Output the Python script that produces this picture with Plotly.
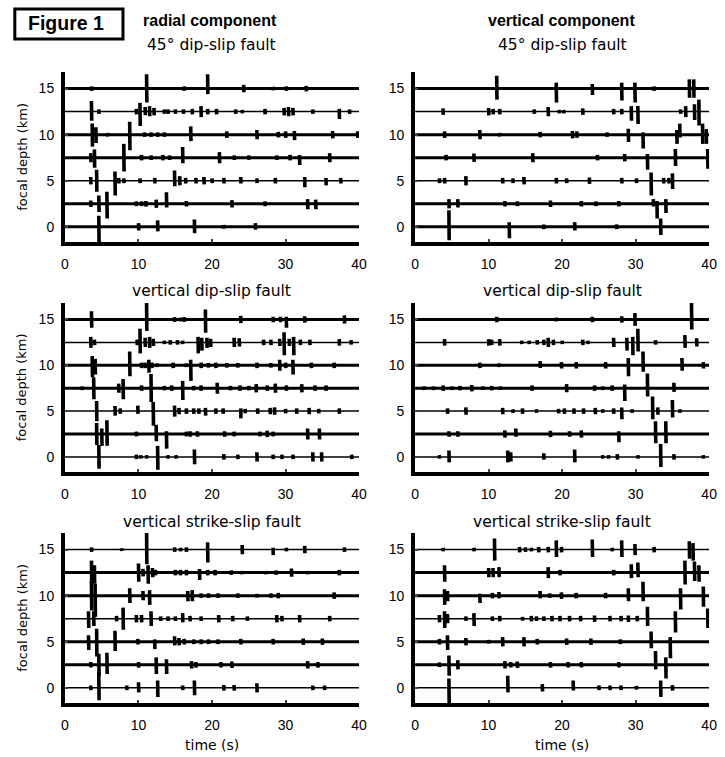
import plotly.graph_objects as go

# ---------------- data ----------------
depths = [0, 2.5, 5, 7.5, 10, 12.5, 15]
xticks = [0, 10, 20, 30, 40]
yticks = [0, 5, 10, 15]
component_titles = ["radial component", "vertical component"]
fault_titles = ["45° dip-slip fault", "vertical dip-slip fault", "vertical strike-slip fault"]
x_title = "time (s)"
y_title = "focal depth (km)"
figure_label = "Figure 1"

# each trace (depth 0 ... 15 km): list of (time s, amplitude up km, amplitude down km)
radial_45 = [
    [(4.6, 1.2, 1.8), (10.0, .4, .4), (12.6, .7, .5), (17.6, .8, .7), (21.6, .2, .2), (25.9, .4, .3)],
    [(3.5, .35, .35), (4.6, .9, .9), (5.7, 1.3, 1.6), (9.7, .25, .25), (10.4, .25, .25), (11.0, .3, .3),
     (12.4, .45, .45), (13.8, 1.25, .4), (16.5, .3, .3), (22.7, .4, .4), (27.2, .25, .25), (33.0, .5, .6), (34.1, .45, .6)],
    [(3.5, .4, .4), (4.3, 1.2, 1.2), (6.8, 1.0, 1.6), (7.3, .3, .3), (8.0, .25, .25), (10.2, .25, .25), (12.2, .3, .3),
     (14.9, 1.1, .6), (15.6, .5, .5), (16.4, .3, .3), (17.8, .3, .3), (18.9, .4, .4), (20.0, .25, .25), (21.6, .3, .3),
     (23.9, .4, .3), (26.1, .25, .25), (28.6, .3, .3), (32.6, .4, .7), (35.5, .3, .5), (37.5, .3, .3)],
    [(3.5, .5, .5), (4.0, .9, 1.1), (8.0, 1.5, 1.5), (10.4, .3, .3), (11.7, .25, .25), (13.3, .3, .3), (14.2, .25, .25),
     (16.0, 1.15, .6), (21.0, .6, .6), (23.0, .25, .25), (25.0, .25, .25), (28.8, .25, .25), (30.6, .3, .3),
     (31.9, .3, .8), (36.0, .5, .5)],
    [(3.7, 1.2, 1.3), (4.2, .8, .9), (5.8, .2, .2), (8.8, 1.4, 1.7), (10.8, .25, .25), (11.7, .25, .25), (12.6, .25, .25),
     (13.5, .25, .25), (17.1, .9, .7), (22.0, .35, .35), (26.1, .5, .5), (29.0, .3, .3), (30.0, .35, .35),
     (31.2, .4, .6), (36.4, .4, .4), (39.8, .35, .35)],
    [(3.6, 1.15, 1.0), (4.6, .25, .25), (9.7, .3, .3), (10.2, .95, 1.55), (10.9, .5, .4), (11.5, .6, .5), (12.1, .4, .4),
     (13.5, .25, .25), (14.0, .25, .25), (15.0, .25, .25), (16.1, .25, .25), (17.3, .3, .3), (18.5, .6, .6),
     (19.4, .3, .3), (20.6, .3, .3), (23.2, .25, .25), (24.1, .2, .2), (27.2, .3, .3), (29.8, .4, .4), (30.4, .5, .5),
     (31.0, .4, .4), (33.7, .25, .25), (37.3, .3, .8), (38.7, .25, .25)],
    [(3.6, .25, .25), (11.1, 1.55, 1.5), (16.2, .25, .25), (19.4, 1.55, .6), (24.3, .4, .4), (28.3, .2, .2),
     (30.1, .25, .25), (32.8, .3, .3)],
]

vertical_45 = [
    [(4.6, 1.8, 1.45), (12.8, .5, 1.25), (17.5, .25, .25), (21.7, .5, .4), (27.4, .25, .25), (33.4, .9, .9)],
    [(4.6, .5, .5), (5.8, .5, .4), (12.2, .3, .3), (13.9, .25, .25), (18.4, .35, .35), (22.6, .3, .3), (24.6, .25, .25),
     (27.7, .3, .3), (32.4, .5, .3), (32.9, .3, 1.6), (34.1, .5, 1.0)],
    [(3.3, .25, .25), (4.0, .3, .3), (6.9, .5, .5), (11.9, .3, .3), (13.3, .25, .25), (14.8, .4, .4), (19.2, .3, .3),
     (20.6, .25, .25), (23.7, .35, .35), (28.1, .3, .3), (30.1, .25, .25), (32.1, .9, 1.6), (33.8, .3, .3),
     (34.5, .3, .3), (35.0, .8, .9)],
    [(4.2, .3, .3), (8.0, .45, .45), (16.0, .5, .5), (24.8, .3, .3), (28.5, .4, .4), (31.6, .4, 1.3), (35.4, .95, .9),
     (39.8, .95, 1.2)],
    [(4.0, .35, .35), (8.8, .5, .5), (11.5, .2, .2), (17.0, .3, .3), (21.4, .4, .4), (22.0, .35, .35), (26.1, .25, .25),
     (29.0, .65, .8), (31.0, .25, 1.5), (35.6, .5, 1.0), (36.0, 1.2, .3), (39.1, 1.2, 1.0), (39.6, .6, 1.0)],
    [(3.8, .35, .35), (10.0, .4, .4), (10.6, .3, .3), (11.5, .3, .3), (16.2, .25, .25), (18.1, .5, .5), (19.6, .2, .2),
     (20.2, .2, .2), (22.8, .35, .35), (27.0, .3, .3), (28.1, .3, .3), (29.4, .6, 1.0), (30.3, .6, 1.35),
     (36.1, .25, .25), (36.8, .6, .6), (38.0, .8, .9), (38.6, 1.3, 1.5)],
    [(11.1, 1.4, 1.2), (19.2, .65, 1.5), (24.1, .5, .7), (28.1, .65, 1.3), (29.9, .65, 1.5), (32.5, .25, .25),
     (37.3, 1.0, 1.0), (37.9, 1.0, 1.0)],
]

radial_dip = [
    [(4.6, 1.3, 1.3), (9.7, .25, .25), (10.3, .2, .2), (11.1, .2, .2), (12.6, 1.2, 1.4), (14.0, .2, .2), (15.1, .2, .2),
     (17.6, .8, .8), (21.6, .3, .3), (23.5, .25, .25), (26.1, .5, .5), (28.3, .25, .25), (29.5, .25, .25),
     (31.0, .25, .25), (33.7, .5, .5), (34.9, .5, .5), (39.0, .25, .25)],
    [(4.3, 1.2, 1.2), (5.0, .6, 1.3), (5.7, 1.5, 1.3), (9.7, .25, .25), (12.4, 1.0, .8), (13.8, .3, 1.6), (16.5, .25, .25),
     (17.0, .3, .3), (18.0, .3, .3), (21.7, .3, .3), (23.0, .25, .25), (26.5, .25, .25), (27.5, .35, .35),
     (28.3, .25, .25), (33.0, .6, .6), (34.6, .6, .6)],
    [(4.3, 1.1, 1.1), (6.8, .55, .5), (7.5, .3, .3), (9.9, .6, .3), (12.0, 1.0, 1.6), (14.9, .6, .6), (15.5, .35, .35),
     (16.5, .3, .3), (17.5, .3, .3), (18.2, .3, .3), (19.1, .35, .5), (20.5, .3, .3), (21.5, .3, .3), (23.9, .3, .8),
     (24.5, .25, .25), (26.2, .3, .3), (27.9, .35, .35), (28.5, .4, .4), (30.0, .25, .25), (31.5, .3, .3),
     (33.2, .35, .35), (34.5, .25, .25), (37.3, .3, .3)],
    [(2.3, .2, .2), (3.9, 1.2, 1.2), (7.3, .5, .5), (7.9, 1.0, 1.2), (10.4, .3, .3), (11.7, 1.55, 1.5), (13.5, .25, .25),
     (14.5, .3, .3), (16.0, .8, 1.3), (17.5, .25, .25), (18.5, .3, .3), (20.7, .6, .6), (22.5, .25, .25),
     (23.8, .3, .3), (25.0, .25, .25), (26.0, .45, .45), (27.5, .3, .3), (28.6, .5, .5), (30.1, .3, .3),
     (32.2, .45, .45), (34.0, .3, .3), (35.5, .3, .3)],
    [(3.7, 1.0, 1.3), (4.1, .7, 1.0), (8.8, 1.5, 1.2), (10.4, .3, .3), (10.9, .3, .3), (11.4, .6, .8), (11.8, .3, .3),
     (12.5, .2, .2), (14.7, .3, .3), (16.5, .2, .2), (17.1, .6, 1.7), (18.5, .3, .3), (19.5, .25, .25),
     (20.5, .3, .3), (22.0, .25, .25), (23.5, .25, .25), (26.1, .3, .3), (28.0, .25, .25), (29.2, .6, .6),
     (30.0, .3, .3), (31.0, .6, 1.0), (33.5, .3, .3), (36.6, .3, .3)],
    [(3.5, .6, .6), (4.0, .3, .3), (9.8, .3, .3), (10.2, 1.5, 1.2), (10.9, .5, .5), (11.5, .6, .6), (12.0, .4, .4),
     (13.5, .2, .2), (14.3, .25, .25), (15.3, .25, .25), (16.0, .2, .2), (18.1, .6, 1.2), (18.6, .5, .9),
     (19.3, .5, .6), (19.8, .4, .5), (23.0, .5, .5), (23.7, .45, .45), (27.0, .3, .3), (28.0, .3, .3),
     (29.2, .4, .4), (29.8, 1.1, 1.4), (30.5, .4, .4), (31.1, .6, 1.4), (32.0, .3, .3), (33.3, .3, .3),
     (37.3, .35, .35), (38.9, .25, .25)],
    [(3.6, .9, .9), (11.1, 1.8, 1.25), (14.9, .25, .25), (15.7, .2, .2), (16.2, .25, .25), (19.1, 1.1, 1.45),
     (23.9, .4, .4), (28.3, .3, .3), (29.3, .3, .3), (30.1, .3, .9), (32.6, .35, .35), (38.0, .45, .45)],
]

vertical_dip = [
    [(3.3, .2, .2), (4.6, .7, .6), (12.6, .7, .6), (13.0, .5, .5), (17.5, .4, .3), (21.7, .8, .6), (25.5, .2, .2),
     (26.3, .2, .2), (27.5, .3, .3), (30.3, .2, .2), (33.4, 1.4, 1.1), (35.2, .3, .3), (39.2, .2, .2)],
    [(4.6, .3, .3), (5.8, .3, .3), (12.2, .4, .4), (13.7, .6, .3), (18.4, .35, .35), (21.0, .3, .3), (22.6, .4, .4),
     (27.7, .3, .9), (32.7, 1.4, 1.0), (34.1, 1.4, 1.0)],
    [(4.4, .3, .3), (6.9, .4, .4), (11.9, .35, .35), (13.3, .2, .2), (14.6, .3, .3), (16.5, .2, .2), (19.5, .25, .25),
     (20.3, .3, .3), (21.6, .3, .3), (22.9, .3, .3), (24.5, .35, .35), (25.5, .2, .2), (27.0, .3, .3),
     (28.1, .4, .9), (29.5, .2, .2), (32.3, 1.6, .9), (33.0, .4, .4), (35.0, 1.2, .7), (36.0, .2, .2)],
    [(1.2, .2, .2), (2.5, .2, .2), (3.8, .3, .3), (5.0, .2, .2), (6.1, .25, .25), (7.7, .35, .35), (9.2, .2, .2),
     (10.4, .25, .25), (11.6, .2, .2), (15.9, .3, .3), (20.6, .45, .45), (24.4, .3, .3), (25.5, .2, .2),
     (26.8, .3, .3), (28.5, .4, 1.4), (31.6, 1.6, .9), (35.2, .6, .4)],
    [(8.8, .3, .3), (11.4, .2, .2), (17.0, .45, .3), (19.9, .35, .35), (21.9, .35, .35), (25.9, .35, .35),
     (29.0, .8, 1.2), (31.0, 1.5, .7), (36.3, .8, .6), (39.2, .35, .35)],
    [(4.0, .35, .35), (10.0, .35, .35), (10.4, .3, .3), (11.5, .35, .35), (14.5, .2, .2), (15.5, .2, .2),
     (16.6, .25, .25), (17.5, .3, .3), (18.1, .5, .5), (18.8, .3, .3), (20.0, .2, .2), (22.8, .3, .3),
     (23.5, .2, .2), (27.0, .5, .5), (28.8, .5, .9), (29.6, .6, 1.4), (30.3, 1.5, 1.0), (32.7, .25, .25),
     (36.7, .8, .6), (38.3, .45, .45)],
    [(11.1, .3, .3), (19.2, .2, .2), (24.1, .3, .3), (28.1, .35, .35), (29.9, .7, .7), (37.6, 1.8, 1.1)],
]

radial_strike = [
    [(3.5, .25, .25), (4.6, 1.7, 1.35), (8.4, .25, .25), (10.0, .6, .5), (12.6, .8, 1.0), (16.0, .25, .25),
     (17.6, .8, .8), (21.6, .3, .3), (23.0, .3, .3), (26.1, .5, .5), (33.7, .25, .25), (35.3, .25, .25)],
    [(3.5, .3, .3), (4.6, 1.2, 1.2), (5.7, 1.3, 1.0), (10.0, .3, .3), (12.4, .8, 1.0), (13.8, .6, 1.0),
     (17.2, .4, .4), (17.8, .3, .3), (21.2, .3, .3), (22.7, .35, .35), (33.0, .4, .4), (34.4, .3, .3)],
    [(3.2, .7, .9), (4.3, 1.4, 1.6), (6.8, 1.2, 1.0), (9.9, .3, .3), (12.2, .25, .8), (14.9, .6, .4), (15.5, .4, .4),
     (16.2, .3, .3), (17.5, .25, .25), (18.5, .25, .25), (19.5, .25, .25), (20.8, .25, .25), (23.9, .3, .3),
     (28.3, .3, .3), (32.4, .35, .35), (35.0, .35, .35)],
    [(3.2, .8, 1.0), (3.9, .8, .8), (7.0, .3, .3), (7.9, 1.2, 1.2), (9.7, .4, .4), (10.4, .4, .4), (11.7, .8, .8),
     (13.0, .25, .25), (14.0, .25, .25), (15.0, .25, .25), (16.0, .6, .4), (17.0, .3, .3), (18.5, .25, .25),
     (20.9, .4, .4), (22.8, .3, .3), (24.8, .25, .25), (28.8, .4, .4), (29.5, .3, .3), (31.9, .4, .4),
     (36.0, .3, .3)],
    [(3.6, 1.6, 1.6), (4.1, 1.3, 2.3), (8.8, .8, .8), (10.6, .5, .5), (11.5, .6, 1.0), (16.7, .5, .6), (17.3, .6, .6),
     (18.5, .25, .25), (19.5, .25, .25), (20.8, .25, .25), (23.5, .25, .25), (26.1, .2, .2), (28.0, .25, .25),
     (29.0, .3, .3), (36.6, .35, .35)],
    [(3.6, 1.3, 1.2), (4.0, .8, 1.2), (10.0, 1.0, 1.0), (10.6, .4, .4), (11.3, .8, 1.2), (11.9, .5, .5),
     (12.3, .3, .3), (15.0, .3, .3), (15.7, .3, .3), (16.5, .3, .3), (18.3, .4, .8), (19.4, .3, .3),
     (20.4, .3, .3), (22.6, .25, .25), (24.0, .2, .2), (27.3, .2, .2), (28.7, .25, .25), (30.8, .45, .45),
     (33.0, .2, .2), (37.3, .3, .3)],
    [(3.6, .25, .25), (7.7, .15, .15), (11.1, 2.2, 1.6), (14.9, .25, .25), (15.7, .2, .2), (16.5, .25, .25),
     (19.4, .8, 1.4), (24.1, .5, .5), (28.3, .2, .6), (30.1, .2, .2), (32.6, .4, .4), (38.0, .25, .25)],
]

vertical_strike = [
    [(4.6, 1.0, 1.75), (12.6, 1.3, .5), (17.3, .4, .4), (21.5, .8, .3), (25.0, .25, .25), (26.5, .25, .25),
     (28.0, .25, .25), (30.1, .2, .2), (33.4, .8, 1.0), (35.0, .3, .3)],
    [(3.3, .25, .25), (4.6, 1.0, 1.2), (5.8, .5, .5), (12.2, .4, .4), (13.0, .3, .3), (13.9, .35, .35),
     (18.4, .3, .3), (20.8, .3, .3), (22.6, .3, .3), (27.7, .3, .3), (32.7, 1.5, .5), (34.1, .8, 1.5)],
    [(3.3, .3, .3), (4.4, .7, .9), (6.9, .4, .4), (10.0, .2, .2), (11.9, .5, .5), (14.8, .5, .5), (16.6, .3, .3),
     (20.6, .35, .35), (23.9, .35, .35), (27.9, .25, .25), (32.1, 1.1, .7), (34.7, .5, 1.8)],
    [(3.3, .4, .4), (4.0, .8, 1.0), (4.4, .5, .5), (6.9, .25, .25), (8.0, .6, .8), (10.5, .25, .25), (11.5, .3, .3),
     (14.6, .2, .2), (15.8, .3, .3), (16.5, .25, .25), (17.5, .25, .25), (18.6, .3, .3), (19.7, .3, .3),
     (21.0, .3, .3), (22.5, .3, .3), (24.4, .35, .35), (26.5, .3, .3), (28.0, .3, .3), (29.0, .35, .35),
     (30.2, .3, .3), (31.6, 1.3, .8), (35.4, .8, 1.5), (39.8, 1.1, 1.0)],
    [(4.0, .7, 1.0), (4.4, .5, .6), (8.8, .2, .8), (10.5, .3, .3), (11.4, .4, .3), (17.0, .5, .3), (18.3, .25, .25),
     (19.9, .35, .35), (21.9, .3, .3), (25.9, .3, .3), (29.0, .8, .6), (31.0, 1.5, .6), (36.1, .8, 1.5),
     (39.2, 1.0, 1.2)],
    [(4.0, .8, 1.0), (10.0, .5, .5), (10.6, .5, .5), (11.4, .6, .5), (18.1, .6, .6), (19.7, .3, .3), (27.0, .3, .3),
     (29.4, .9, .6), (30.3, 1.1, .5), (36.7, 1.3, 1.3), (38.0, 1.2, .9), (38.6, .8, 1.0)],
    [(3.8, .2, .2), (8.0, .2, .2), (10.8, 1.2, 1.2), (14.2, .3, .3), (15.0, .25, .25), (15.8, .2, .2), (16.8, .3, .3),
     (18.1, .3, .3), (19.2, 1.0, .8), (19.9, .3, .3), (24.1, 1.1, .8), (26.8, .2, .2), (28.1, 1.0, .8),
     (29.9, .6, .6), (32.5, .3, .3), (37.3, .9, 1.0), (37.8, .7, 1.2)],
]

panels = [radial_45, vertical_45, radial_dip, vertical_dip, radial_strike, vertical_strike]

# ---------------- styles / layout ----------------
W, H = 725, 757
baseline_widths = [
    [3, 3, 1.5, 3, 3, 1.5, 3],
    [3, 3, 1.5, 3, 3, 1.5, 3],
    [1.5, 3, 1.5, 3, 3, 1.5, 3],
    [1.5, 3, 1.5, 3, 3, 1.5, 3],
    [1.5, 3, 3, 1.5, 3, 3, 1.5],
    [1.5, 3, 3, 1.5, 3, 3, 1.5],
]
col_px = [(62, 361), (418, 717)]
row_px = [(72, 242), (303, 472), (533, 703)]
YR = [-1.65, 16.8]
FONT = "Liberation Sans, Arial, Helvetica, sans-serif"
WIDE = "DejaVu Sans, Verdana, sans-serif"

fig = go.Figure()
layout = dict(width=W, height=H, margin=dict(l=0, r=0, t=0, b=0),
              paper_bgcolor="white", plot_bgcolor="white", showlegend=False,
              font=dict(family=FONT, color="black", size=14))

for i, panel in enumerate(panels):
    r, c = divmod(i, 2)
    ax = "" if i == 0 else str(i + 1)
    xa, ya = "x" + ax, "y" + ax
    for d, w in zip(depths, baseline_widths[i]):
        fig.add_trace(go.Scatter(x=[0, 40], y=[d, d], mode="lines", xaxis=xa, yaxis=ya,
                                 line=dict(color="black", width=w), hoverinfo="skip"))
    xs, ys = [], []
    for d, events in zip(depths, panel):
        for t, up, dn in events:
            xs += [t, t + 0.04, None]
            ys += [d + up, d - dn, None]
    fig.add_trace(go.Scatter(x=xs, y=ys, mode="lines", xaxis=xa, yaxis=ya,
                             line=dict(color="black", width=3.6), hoverinfo="skip"))
    x0, x1 = col_px[c]
    y0, y1 = row_px[r]
    layout["xaxis" + ax] = dict(domain=[x0 / W, x1 / W], range=[0, 40], anchor=ya,
                                tickvals=xticks, ticks="inside", ticklen=3, tickwidth=1.5,
                                showline=True, linewidth=4, linecolor="black",
                                showgrid=False, zeroline=False, ticklabelstandoff=6,
                                tickfont=dict(size=14, family=FONT))
    layout["yaxis" + ax] = dict(domain=[1 - y1 / H, 1 - y0 / H], range=YR, anchor=xa,
                                tickvals=yticks, ticks="inside", ticklen=3, tickwidth=1.5,
                                showline=True, linewidth=4, linecolor="black",
                                showgrid=False, zeroline=False, ticklabelstandoff=4,
                                tickfont=dict(size=14, family=FONT))

fig.update_layout(**layout)


def label(x, y, text, size, family, angle=0):
    return dict(x=x / W, y=1 - y / H, xref="paper", yref="paper", text=text, showarrow=False,
                xanchor="center", yanchor="middle", textangle=angle,
                font=dict(size=size, family=family))


ann = []
title_y = [45, 291, 522]
for r in range(3):
    for c in range(2):
        cx = (col_px[c][0] + col_px[c][1]) / 2
        ann.append(label(cx, title_y[r], fault_titles[r], 15.5, WIDE))
    cy = (row_px[r][0] + row_px[r][1]) / 2
    ann.append(label(18, cy, y_title, 13, WIDE, -90))
comp_x = [209, 567]
for c in range(2):
    ann.append(label(comp_x[c], 20, "<b>" + component_titles[c] + "</b>", 16, FONT))
    cx = (col_px[c][0] + col_px[c][1]) / 2
    ann.append(label(cx, 745, x_title, 14, WIDE))
ann.append(label(63, 23, "<b>" + figure_label + "</b>", 19.5, FONT))
fig.update_layout(annotations=ann)
fig.add_shape(type="rect", xref="paper", yref="paper", x0=11 / W, x1=121 / W, y0=1 - 39 / H, y1=1 - 9 / H,
              line=dict(color="black", width=3))

fig.write_html("out.html")
